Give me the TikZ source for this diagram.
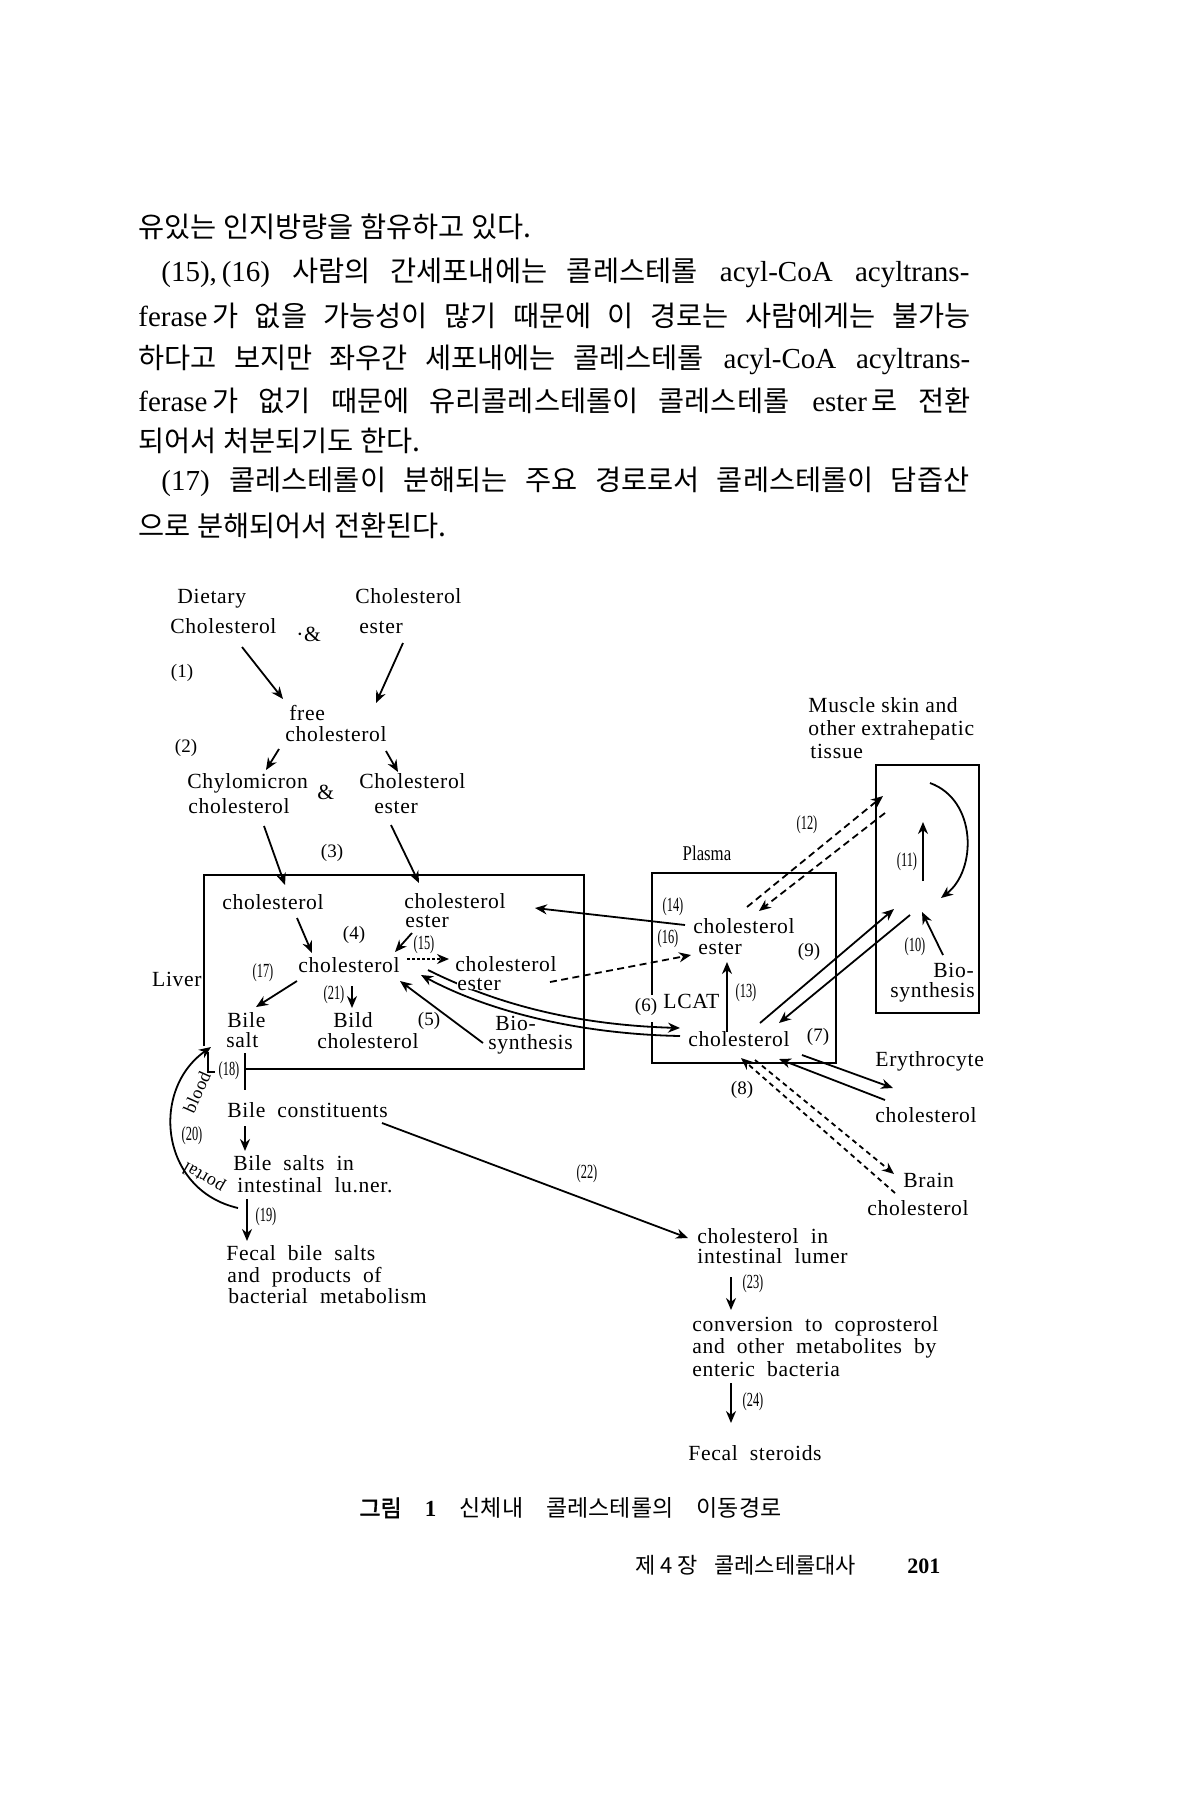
\documentclass[tikz,border=0pt]{standalone}
\usepackage{fontspec}
\setmainfont{Liberation Serif}
\newfontfamily\dfont[LetterSpace=3]{Liberation Serif}
\newfontfamily\cfont[FakeStretch=0.62]{Liberation Serif}
\newfontfamily\pfont[FakeStretch=0.8]{Liberation Serif}
\newfontfamily\kr{Noto Sans CJK KR}
\newfontfamily\krb[FakeBold=2]{Noto Sans CJK KR}
\newcommand{\krtext}[1]{{\kr\fontsize{14.2}{16}\selectfont #1}}
\usetikzlibrary{arrows.meta}
\begin{document}
\begin{tikzpicture}[x=0.5pt,y=-0.5pt,
  lbl/.style={font=\dfont\fontsize{10.8}{12}\selectfont, inner sep=0pt, anchor=base west},
  numc/.style={font=\cfont\fontsize{10}{12}\selectfont, inner sep=0pt},
  numn/.style={font=\fontsize{9.5}{12}\selectfont, inner sep=0pt},
  body/.style={font=\fontsize{14.5}{16}\selectfont, inner sep=0pt, anchor=west},
  arr/.style={line width=0.9pt, -{Stealth[length=6pt,width=5pt]}},
  ln/.style={line width=0.9pt},
  dsh/.style={arr, dash pattern=on 3.5pt off 2.2pt},
  dot/.style={arr, dash pattern=on 1.5pt off 1pt},
  frame/.style={line width=1.2pt}]
\fill[white] (0,0) rectangle (1200,1800);
\useasboundingbox (0,0) rectangle (1200,1800);

% ---------------- body text ----------------
\node[body] (t1) at (138,227) {\krtext{유있는 인지방량을 함유하고 있다.}};
\node[body] (t2) at (161,273) {\makebox[404pt][s]{(15),\,(16) \krtext{사람의 간세포내에는 콜레스테롤} acyl-CoA acyltrans-}};
\node[body] (t3) at (138,316) {\makebox[416pt][s]{ferase\,\krtext{가 없을 가능성이 많기 때문에 이 경로는 사람에게는 불가능}}};
\node[body] (t4) at (138,360) {\makebox[416pt][s]{\krtext{하다고 보지만 좌우간 세포내에는 콜레스테롤} acyl-CoA acyltrans-}};
\node[body] (t5) at (138,401) {\makebox[416pt][s]{ferase\,\krtext{가 없기 때문에 유리콜레스테롤이 콜레스테롤} ester\,\krtext{로 전환}}};
\node[body] (t6) at (138,441) {\krtext{되어서 처분되기도 한다.}};
\node[body] (t7) at (161,482) {\makebox[404pt][s]{(17) \krtext{콜레스테롤이 분해되는 주요 경로로서 콜레스테롤이 담즙산}}};
\node[body] (t8) at (138,526) {\krtext{으로 분해되어서 전환된다.}};

% ---------------- top of diagram ----------------
\node[lbl] (diet1) at (177,603) {Dietary};
\node[lbl] (diet2) at (170,633) {Cholesterol};
\node[lbl] (amp1) at (296,641) {·\&};
\node[lbl] (ce1a) at (355,603) {Cholesterol};
\node[lbl] (ce1b) at (359,633) {ester};
\node[numn] (n1) at (182,673) {(1)};
\node[lbl] (free1) at (289,720) {free};
\node[lbl] (free2) at (285,741) {cholesterol};
\node[numn] (n2) at (186,748) {(2)};
\node[lbl] (chy1) at (187,788) {Chylomicron};
\node[lbl] (chy2) at (188,813) {cholesterol};
\node[lbl] (amp2) at (317,799) {\&};
\node[lbl] (ce2a) at (359,788) {Cholesterol};
\node[lbl] (ce2b) at (374,813) {ester};
\node[numn] (n3) at (332,853) {(3)};

\coordinate (c1s) at (242,647); \coordinate (c1e) at (283,699);
\coordinate (c2s) at (403,643); \coordinate (c2e) at (376,703);
\coordinate (c3s) at (279,749); \coordinate (c3e) at (266,770);
\coordinate (c4s) at (386,751); \coordinate (c4e) at (398,772);
\coordinate (c5s) at (264,826); \coordinate (c5e) at (285,885);
\coordinate (c6s) at (391,825); \coordinate (c6e) at (419,883);
\draw[arr] (c1s) -- (c1e);
\draw[arr] (c2s) -- (c2e);
\draw[arr] (c3s) -- (c3e);
\draw[arr] (c4s) -- (c4e);
\draw[arr] (c5s) -- (c5e);
\draw[arr] (c6s) -- (c6e);

% ---------------- curves between liver and plasma (drawn under text) ----------------
\coordinate (cAs) at (428,970); \coordinate (cAe) at (680,1028);
\coordinate (cBs) at (680,1036); \coordinate (cBe) at (421,975);
\draw[arr] (cAs) .. controls (500,1006) and (580,1025) .. (cAe);
\draw[arr] (cBs) .. controls (580,1034) and (490,1012) .. (cBe);

% ---------------- liver ----------------
\coordinate (lv1) at (204,1046); \coordinate (lv2) at (204,875);
\coordinate (lv3) at (584,875); \coordinate (lv4) at (584,1069);
\coordinate (lv5) at (245,1069);
\draw[frame] (lv1) -- (lv2) -- (lv3) -- (lv4) -- (lv5);
\coordinate (lvL1) at (208,1052); \coordinate (lvL2) at (208,1072); \coordinate (lvL3) at (215,1072);
\draw[ln] (lvL1) -- (lvL2) -- (lvL3);
\node[lbl, anchor=base east] (liver) at (202,986) {Liver};

\node[lbl] (lchol) at (222,909) {cholesterol};
\node[lbl] (lce1) at (404,908) {cholesterol};
\node[lbl] (lce1b) at (405,927) {ester};
\node[numn] (n4) at (354,935) {(4)};
\node[numc] (n15) at (424,945) {(15)};
\node[lbl] (lc) at (298,972) {cholesterol};
\node[lbl, fill=white] (lce2) at (455,971) {cholesterol};
\node[lbl, fill=white] (lce2b) at (457,990) {ester};
\node[numc] (n17) at (263,973) {(17)};
\node[lbl] (bile1) at (227,1027) {Bile};
\node[lbl] (bile2) at (226,1047) {salt};
\node[numc] (n21) at (334,995) {(21)};
\node[lbl] (bild1) at (333,1027) {Bild};
\node[lbl] (bild2) at (317,1048) {cholesterol};
\node[numn] (n5) at (429,1021) {(5)};
\node[lbl] (lbio1) at (495,1030) {Bio-};
\node[lbl] (lbio2) at (488,1049) {synthesis};

\coordinate (c7s) at (297,918); \coordinate (c7e) at (312,953);
\coordinate (c8s) at (412,933); \coordinate (c8e) at (395,952);
\coordinate (c9s) at (407,959); \coordinate (c9e) at (449,959);
\coordinate (c10s) at (297,981); \coordinate (c10e) at (256,1007);
\coordinate (c11s) at (352,986); \coordinate (c11e) at (352,1008);
\coordinate (c12s) at (483,1043); \coordinate (c12e) at (400,981);
\draw[arr] (c7s) -- (c7e);
\draw[arr] (c8s) -- (c8e);
\draw[dot] (c9s) -- (c9e);
\draw[arr] (c10s) -- (c10e);
\draw[arr] (c11s) -- (c11e);
\draw[arr] (c12s) -- (c12e);

% ---------------- bile path ----------------
\node[numc] (n18) at (229,1071) {(18)};
\coordinate (c18s) at (245,1053); \coordinate (c18e) at (245,1090);
\draw[line width=1.2pt] (c18s) -- (c18e);
\node[lbl] (bc) at (227,1117) {Bile\ \ constituents};
\node[lbl] (bsi1) at (233,1170) {Bile\ \ salts\ \ in};
\node[lbl] (bsi2) at (237,1192) {intestinal\ \ lu.ner.};
\node[numc] (n19) at (266,1217) {(19)};
\node[lbl] (fb1) at (226,1260) {Fecal\ \ bile\ \ salts};
\node[lbl] (fb2) at (227,1282) {and\ \ products\ \ of};
\node[lbl] (fb3) at (228,1303) {bacterial\ \ metabolism};
\coordinate (c30s) at (245,1126); \coordinate (c30e) at (245,1151);
\coordinate (c31s) at (247,1199); \coordinate (c31e) at (247,1241);
\draw[arr] (c30s) -- (c30e);
\draw[arr] (c31s) -- (c31e);

% portal blood
\coordinate (pbs) at (238,1208); \coordinate (pbe) at (211,1047);
\draw[arr] (pbs) .. controls (160,1190) and (150,1090) .. (pbe);
\node[numc] (n20) at (192,1136) {(20)};
\node[font=\dfont\fontsize{9}{12}\selectfont, inner sep=0pt, rotate=66] (blood) at (197,1092) {blood};
\node[font=\dfont\fontsize{9}{12}\selectfont, inner sep=0pt, rotate=150] (portal) at (204,1177) {portal};

% ---------------- plasma ----------------
\coordinate (pl1) at (652,995); \coordinate (pl2) at (652,873);
\coordinate (pl3) at (836,873); \coordinate (pl4) at (836,1063);
\coordinate (pl5) at (652,1063); \coordinate (pl6) at (652,1022);
\draw[frame] (pl1) -- (pl2) -- (pl3) -- (pl4) -- (pl5) -- (pl6);
\node[font=\pfont\fontsize{10.5}{12}\selectfont, inner sep=0pt] (plasma) at (707,853) {Plasma};
\node[lbl] (pce1) at (693,933) {cholesterol};
\node[lbl] (pce2) at (698,954) {ester};
\node[numc] (n14) at (673,907) {(14)};
\node[numc] (n16) at (668,939) {(16)};
\node[numn] (n9) at (809,952) {(9)};
\node[lbl] (lcat) at (663,1008) {LCAT};
\node[numn] (n6) at (646,1007) {(6)};
\node[numc] (n13) at (746,993) {(13)};
\node[lbl] (pc) at (688,1046) {cholesterol};
\node[numn] (n7) at (818,1037) {(7)};
\node[numn] (n8) at (742,1090) {(8)};

\coordinate (c15s) at (685,925); \coordinate (c15e) at (535,908);
\coordinate (c16s) at (550,982); \coordinate (c16e) at (691,955);
\coordinate (c17s) at (727,1032); \coordinate (c17e) at (727,962);
\draw[arr] (c15s) -- (c15e);
\draw[dsh] (c16s) -- (c16e);
\draw[arr] (c17s) -- (c17e);

% ---------------- muscle / extrahepatic ----------------
\node[lbl] (m1) at (808,712) {Muscle skin and};
\node[lbl] (m2) at (808,735) {other extrahepatic};
\node[lbl] (m3) at (810,758) {tissue};
\draw[frame] (876,765) rectangle (979,1013);
\node[numc] (n12) at (807,825) {(12)};
\node[numc] (n11) at (907,862) {(11)};
\node[numc] (n10) at (915,947) {(10)};
\node[lbl] (mbio1) at (933,977) {Bio-};
\node[lbl] (mbio2) at (890,997) {synthesis};

\coordinate (c18as) at (760,1023); \coordinate (c18ae) at (894,909);
\coordinate (c19s) at (910,915); \coordinate (c19e) at (779,1023);
\coordinate (c20s) at (747,907); \coordinate (c20e) at (883,796);
\coordinate (c21s) at (885,813); \coordinate (c21e) at (759,911);
\coordinate (c22s) at (923,881); \coordinate (c22e) at (923,822);
\coordinate (c23s) at (930,783); \coordinate (c23e) at (941,898);
\coordinate (c24s) at (943,955); \coordinate (c24e) at (922,912);
\draw[arr] (c18as) -- (c18ae);
\draw[arr] (c19s) -- (c19e);
\draw[dsh] (c20s) -- (c20e);
\draw[dsh] (c21s) -- (c21e);
\draw[arr] (c22s) -- (c22e);
\draw[arr] (c23s) .. controls (977,800) and (977,870) .. (c23e);
\draw[arr] (c24s) -- (c24e);

% ---------------- erythrocyte / brain ----------------
\node[lbl] (ery1) at (875,1066) {Erythrocyte};
\node[lbl] (ery2) at (875,1122) {cholesterol};
\node[lbl] (br1) at (903,1187) {Brain};
\node[lbl] (br2) at (867,1215) {cholesterol};
\coordinate (c25s) at (802,1055); \coordinate (c25e) at (893,1088);
\coordinate (c26s) at (885,1100); \coordinate (c26e) at (779,1059);
\coordinate (c27s) at (755,1060); \coordinate (c27e) at (894,1174);
\coordinate (c28s) at (895,1193); \coordinate (c28e) at (741,1058);
\draw[arr] (c25s) -- (c25e);
\draw[arr] (c26s) -- (c26e);
\draw[dsh, dash pattern=on 2.5pt off 2pt] (c27s) -- (c27e);
\draw[dsh, dash pattern=on 2.5pt off 2pt] (c28s) -- (c28e);

% ---------------- intestinal path ----------------
\node[lbl] (cil1) at (697,1243) {cholesterol\ \ in};
\node[lbl] (cil2) at (697,1263) {intestinal\ \ lumer};
\node[numc] (n22) at (587,1174) {(22)};
\coordinate (c33s) at (382,1123); \coordinate (c33e) at (688,1238);
\draw[arr] (c33s) -- (c33e);
\node[numc] (n23) at (753,1284) {(23)};
\node[lbl] (cv1) at (692,1331) {conversion\ \ to\ \ coprosterol};
\node[lbl] (cv2) at (692,1353) {and\ \ other\ \ metabolites\ \ by};
\node[lbl] (cv3) at (692,1376) {enteric\ \ bacteria};
\node[numc] (n24) at (753,1402) {(24)};
\node[lbl] (fs) at (688,1460) {Fecal\ \ steroids};
\coordinate (c34s) at (731,1277); \coordinate (c34e) at (731,1310);
\coordinate (c35s) at (731,1383); \coordinate (c35e) at (731,1423);
\draw[arr] (c34s) -- (c34e);
\draw[arr] (c35s) -- (c35e);

% ---------------- caption and footer ----------------
\node[anchor=west, inner sep=0pt] (cap) at (359,1508)
  {\makebox[211pt][s]{\krb\fontsize{11.5}{14}\selectfont 그림 {\bfseries\fontspec{Liberation Serif}1} {\kr 신체내 콜레스테롤의 이동경로}}};
\node[anchor=west, inner sep=0pt, font=\kr\fontsize{11}{14}\selectfont] (foot1) at (635,1565) {제 4 장};
\node[anchor=west, inner sep=0pt, font=\kr\fontsize{11}{14}\selectfont] (foot2) at (714,1565) {\makebox[80pt][s]{콜레스테롤대사}};
\node[anchor=west, inner sep=0pt, font=\bfseries\fontsize{11}{12}\selectfont] (foot3) at (907,1566) {201};
\end{tikzpicture}
\end{document}
